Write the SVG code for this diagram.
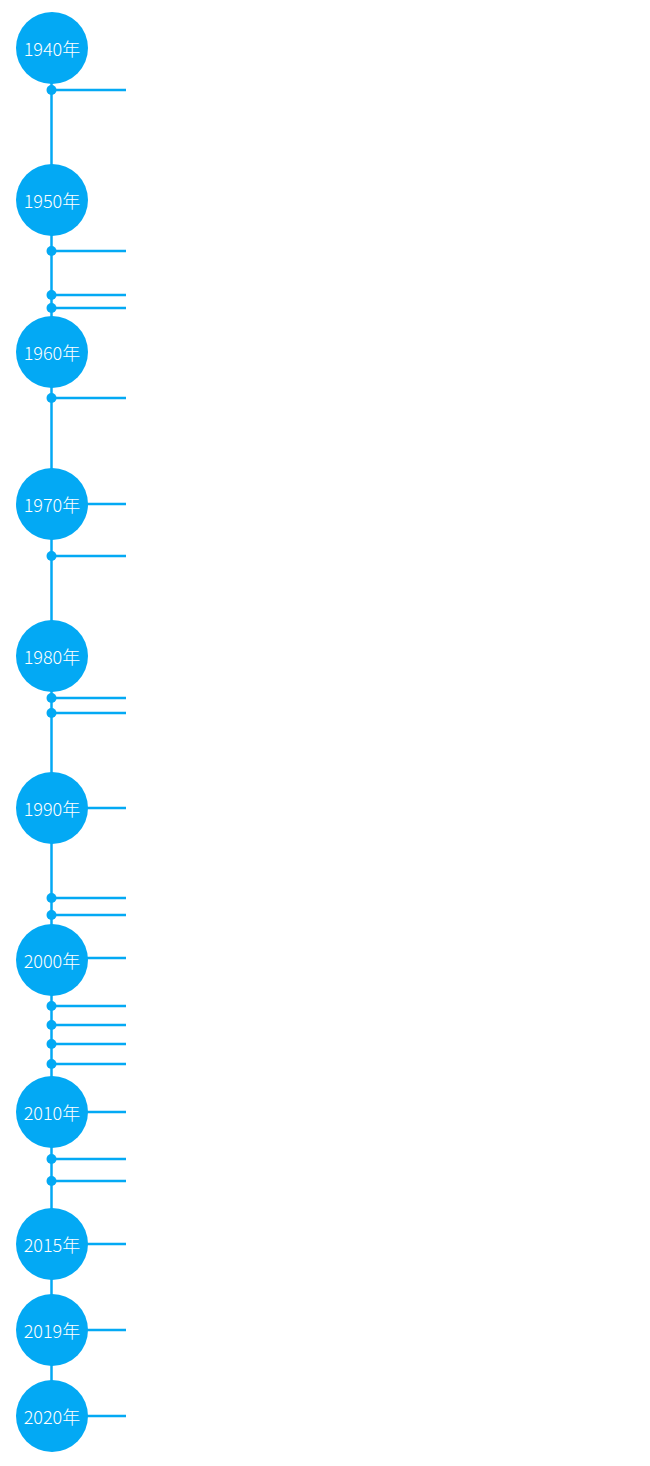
<svg xmlns="http://www.w3.org/2000/svg" width="650" height="1466" viewBox="0 0 650 1466">
<style>
.ln{stroke:#03A9F4;stroke-width:2.5;fill:none}
.dot{fill:#03A9F4}
.yr circle{fill:#03A9F4}
.yr text{fill:#fff;font-family:"Noto Sans CJK JP","Noto Sans CJK SC","Liberation Sans",sans-serif;font-size:18px;font-weight:300;text-anchor:middle;dominant-baseline:central}
</style>
<rect width="650" height="1466" fill="#fff"/>
<g id="connectors">
<line class="ln" x1="51.5" y1="48" x2="51.5" y2="1416"/>
<g id="branches">
<line class="ln" x1="51.5" y1="90" x2="126" y2="90"/>
<line class="ln" x1="51.5" y1="251" x2="126" y2="251"/>
<line class="ln" x1="51.5" y1="295" x2="126" y2="295"/>
<line class="ln" x1="51.5" y1="308" x2="126" y2="308"/>
<line class="ln" x1="51.5" y1="398" x2="126" y2="398"/>
<line class="ln" x1="51.5" y1="504" x2="126" y2="504"/>
<line class="ln" x1="51.5" y1="556" x2="126" y2="556"/>
<line class="ln" x1="51.5" y1="698" x2="126" y2="698"/>
<line class="ln" x1="51.5" y1="713" x2="126" y2="713"/>
<line class="ln" x1="51.5" y1="808" x2="126" y2="808"/>
<line class="ln" x1="51.5" y1="898" x2="126" y2="898"/>
<line class="ln" x1="51.5" y1="915" x2="126" y2="915"/>
<line class="ln" x1="51.5" y1="958" x2="126" y2="958"/>
<line class="ln" x1="51.5" y1="1006" x2="126" y2="1006"/>
<line class="ln" x1="51.5" y1="1025" x2="126" y2="1025"/>
<line class="ln" x1="51.5" y1="1044" x2="126" y2="1044"/>
<line class="ln" x1="51.5" y1="1064" x2="126" y2="1064"/>
<line class="ln" x1="51.5" y1="1112" x2="126" y2="1112"/>
<line class="ln" x1="51.5" y1="1159" x2="126" y2="1159"/>
<line class="ln" x1="51.5" y1="1181" x2="126" y2="1181"/>
<line class="ln" x1="51.5" y1="1244" x2="126" y2="1244"/>
<line class="ln" x1="51.5" y1="1330" x2="126" y2="1330"/>
<line class="ln" x1="51.5" y1="1416" x2="126" y2="1416"/>
</g>
<g id="dots">
<circle class="dot" cx="51.5" cy="90" r="5"/>
<circle class="dot" cx="51.5" cy="251" r="5"/>
<circle class="dot" cx="51.5" cy="295" r="5"/>
<circle class="dot" cx="51.5" cy="308" r="5"/>
<circle class="dot" cx="51.5" cy="398" r="5"/>
<circle class="dot" cx="51.5" cy="556" r="5"/>
<circle class="dot" cx="51.5" cy="698" r="5"/>
<circle class="dot" cx="51.5" cy="713" r="5"/>
<circle class="dot" cx="51.5" cy="898" r="5"/>
<circle class="dot" cx="51.5" cy="915" r="5"/>
<circle class="dot" cx="51.5" cy="1006" r="5"/>
<circle class="dot" cx="51.5" cy="1025" r="5"/>
<circle class="dot" cx="51.5" cy="1044" r="5"/>
<circle class="dot" cx="51.5" cy="1064" r="5"/>
<circle class="dot" cx="51.5" cy="1159" r="5"/>
<circle class="dot" cx="51.5" cy="1181" r="5"/>
</g>
</g>
<g id="y1940" class="yr"><circle cx="52" cy="48" r="36"/><text x="52" y="48">1940年</text></g>
<g id="y1950" class="yr"><circle cx="52" cy="200" r="36"/><text x="52" y="200">1950年</text></g>
<g id="y1960" class="yr"><circle cx="52" cy="352" r="36"/><text x="52" y="352">1960年</text></g>
<g id="y1970" class="yr"><circle cx="52" cy="504" r="36"/><text x="52" y="504">1970年</text></g>
<g id="y1980" class="yr"><circle cx="52" cy="656" r="36"/><text x="52" y="656">1980年</text></g>
<g id="y1990" class="yr"><circle cx="52" cy="808" r="36"/><text x="52" y="808">1990年</text></g>
<g id="y2000" class="yr"><circle cx="52" cy="960" r="36"/><text x="52" y="960">2000年</text></g>
<g id="y2010" class="yr"><circle cx="52" cy="1112" r="36"/><text x="52" y="1112">2010年</text></g>
<g id="y2015" class="yr"><circle cx="52" cy="1244" r="36"/><text x="52" y="1244">2015年</text></g>
<g id="y2019" class="yr"><circle cx="52" cy="1330" r="36"/><text x="52" y="1330">2019年</text></g>
<g id="y2020" class="yr"><circle cx="52" cy="1416" r="36"/><text x="52" y="1416">2020年</text></g>
</svg>
